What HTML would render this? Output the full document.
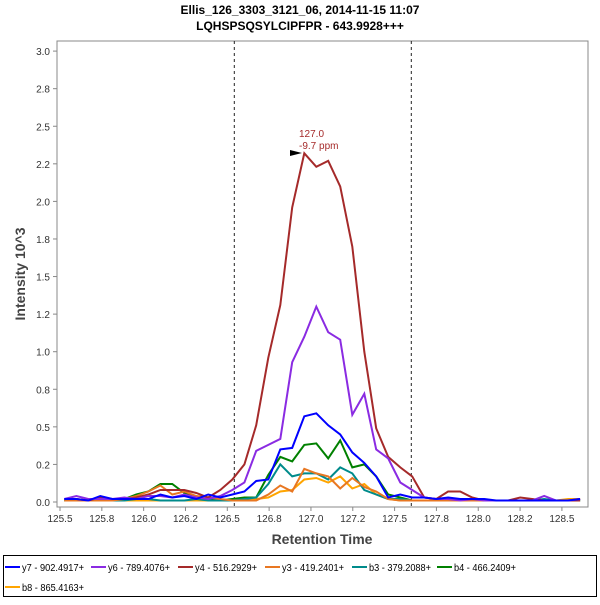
<!DOCTYPE html>
<html><head><meta charset="utf-8"><style>
body{margin:0;background:#fff;font-family:"Liberation Sans",sans-serif}
svg text{font-family:"Liberation Sans",sans-serif}
</style></head><body>
<svg id="chart" width="600" height="600" viewBox="0 0 600 600" xmlns="http://www.w3.org/2000/svg">
<rect width="600" height="600" fill="#fff"/>
<text x="300" y="14" text-anchor="middle" font-size="12" font-weight="bold">Ellis_126_3303_3121_06, 2014-11-15 11:07</text>
<text x="300" y="30" text-anchor="middle" font-size="12" font-weight="bold">LQHSPSQSYLCIPFPR - 643.9928+++</text>
<rect x="57" y="41" width="531" height="466" fill="#fff" stroke="#888" stroke-width="1"/>
<text transform="translate(25,274) rotate(-90)" text-anchor="middle" font-size="14" font-weight="bold" fill="#444">Intensity 10^3</text>
<text x="322" y="544" text-anchor="middle" font-size="14" font-weight="bold" fill="#444">Retention Time</text>
<g id="yticks"></g><g id="xticks"></g>
<line x1="234.3" y1="41" x2="234.3" y2="507" stroke="#222" stroke-dasharray="3,3"/>
<line x1="411.3" y1="41" x2="411.3" y2="507" stroke="#222" stroke-dasharray="3,3"/>
<g id="series"></g>
<text x="299" y="137" font-size="10" fill="#a52a2a">127.0</text>
<text x="299" y="149" font-size="10" fill="#a52a2a">-9.7 ppm</text>
<polygon points="290,150 302,153 290,156" fill="#000"/>
<rect x="3.5" y="555.5" width="593" height="41" fill="#fff" stroke="#000"/>
<g id="legend"></g>
</svg>
<script>
const times=[125.526,125.598,125.669,125.741,125.813,125.885,125.956,126.028,126.100,126.171,126.243,126.315,126.386,126.458,126.530,126.602,126.673,126.745,126.817,126.888,126.960,127.032,127.103,127.175,127.247,127.319,127.390,127.462,127.534,127.605,127.677,127.749,127.820,127.892,127.964,128.036,128.107,128.179,128.251,128.322,128.394,128.466,128.537,128.609];
const y7=[0.02,0.02,0.01,0.04,0.02,0.02,0.02,0.02,0.05,0.03,0.04,0.02,0.05,0.03,0.05,0.07,0.14,0.15,0.35,0.36,0.57,0.59,0.51,0.45,0.33,0.26,0.17,0.03,0.05,0.03,0.03,0.02,0.03,0.02,0.02,0.02,0.01,0.01,0.01,0.01,0.01,0.01,0.01,0.02];
const y6=[0.02,0.04,0.02,0.02,0.02,0.03,0.02,0.04,0.04,0.03,0.05,0.03,0.02,0.04,0.08,0.13,0.34,0.38,0.42,0.93,1.10,1.30,1.13,1.08,0.58,0.72,0.35,0.29,0.13,0.08,0.03,0.02,0.02,0.01,0.02,0.01,0.01,0.01,0.01,0.01,0.04,0.01,0.01,0.02];
const y4=[0.02,0.02,0.01,0.03,0.02,0.02,0.03,0.05,0.08,0.08,0.08,0.06,0.03,0.08,0.15,0.25,0.51,0.96,1.31,1.96,2.32,2.23,2.27,2.10,1.70,1.00,0.49,0.30,0.23,0.17,0.03,0.02,0.07,0.07,0.03,0.01,0.01,0.01,0.03,0.02,0.01,0.01,0.01,0.01];
const y3=[0.01,0.01,0.01,0.01,0.01,0.02,0.04,0.07,0.11,0.05,0.07,0.04,0.03,0.02,0.01,0.01,0.01,0.05,0.11,0.07,0.22,0.19,0.17,0.09,0.16,0.10,0.07,0.02,0.01,0.01,0.01,0.01,0.01,0.01,0.01,0.01,0.01,0.01,0.01,0.01,0.01,0.01,0.01,0.02];
const b3=[0.01,0.01,0.01,0.01,0.01,0.01,0.02,0.02,0.01,0.01,0.01,0.02,0.01,0.01,0.01,0.02,0.03,0.12,0.25,0.17,0.19,0.19,0.15,0.23,0.19,0.08,0.05,0.02,0.02,0.01,0.01,0.01,0.01,0.01,0.01,0.01,0.01,0.01,0.01,0.01,0.02,0.01,0.01,0.01];
const b4=[0.01,0.01,0.01,0.01,0.01,0.02,0.05,0.07,0.12,0.12,0.06,0.03,0.02,0.01,0.02,0.03,0.03,0.18,0.30,0.27,0.38,0.39,0.29,0.41,0.23,0.25,0.17,0.05,0.03,0.01,0.01,0.01,0.01,0.01,0.01,0.01,0.01,0.01,0.01,0.01,0.01,0.01,0.01,0.01];
const b8=[0.01,0.01,0.01,0.01,0.01,0.01,0.01,0.01,0.01,0.01,0.01,0.01,0.01,0.01,0.01,0.02,0.02,0.03,0.07,0.08,0.15,0.16,0.13,0.17,0.09,0.12,0.05,0.02,0.01,0.01,0.01,0.01,0.01,0.01,0.01,0.01,0.01,0.01,0.01,0.01,0.01,0.01,0.02,0.02];
const yTickVals=[0,0.25,0.5,0.75,1,1.25,1.5,1.75,2,2.25,2.5,2.75,3];
const yTickLabels=["0.0","0.2","0.5","0.8","1.0","1.2","1.5","1.8","2.0","2.2","2.5","2.8","3.0"];
const xTickVals=[125.5,125.75,126,126.25,126.5,126.75,127,127.25,127.5,127.75,128,128.25,128.5];
const xTickLabels=["125.5","125.8","126.0","126.2","126.5","126.8","127.0","127.2","127.5","127.8","128.0","128.2","128.5"];
const seriesNames=["y7 - 902.4917+","y6 - 789.4076+","y4 - 516.2929+","y3 - 419.2401+","b3 - 379.2088+","b4 - 466.2409+","b8 - 865.4163+"];
const seriesColors=["#0000ff","#8a2be2","#a52a2a","#e87722","#008b8b","#008000","#ffa500"];
const seriesData=[y7,y6,y4,y3,b3,b4,b8];
const NS="http://www.w3.org/2000/svg";
const xs=t=>60+(t-125.5)*167.3;
const ys=v=>502-v*150.3;
function mk(tag,attrs,parent){const e=document.createElementNS(NS,tag);for(const k in attrs)e.setAttribute(k,attrs[k]);parent.appendChild(e);return e;}
const yg=document.getElementById('yticks');
yTickVals.forEach((v,i)=>{
 const l=mk('line',{x1:53,x2:57,y1:ys(v),y2:ys(v),stroke:'#888'},yg);
 
 
 const t=mk('text',{x:50,y:ys(v)+4,'text-anchor':'end','font-size':10,fill:'#333'},yg);
 t.textContent=yTickLabels[i];
 
 
});
const xg=document.getElementById('xticks');
xTickVals.forEach((v,i)=>{
 const l=mk('line',{x1:xs(v),x2:xs(v),y1:507,y2:511,stroke:'#888'},xg);
 
 
 const t=mk('text',{x:xs(v),y:522,'text-anchor':'middle','font-size':10,fill:'#333'},xg);
 t.textContent=xTickLabels[i];
 
 
});
const sg=document.getElementById('series');
for(let s=seriesData.length-1;s>=0;s--){
 const pts=seriesData[s].map((v,i)=>xs(times[i]).toFixed(1)+','+ys(v).toFixed(1)).join(' ');
 const p=mk('polyline',{points:pts,fill:'none',stroke:seriesColors[s],'stroke-width':2,'stroke-linejoin':'miter'},sg);
 
 
}
const lg=document.getElementById('legend');
const legendPos=[[5,567],[91,567],[178,567],[265,567],[352,567],[437,567],[5,587]];
seriesNames.forEach((n,i)=>{
 const [x,y]=legendPos[i];
 const g=mk('g',{},lg);
 
 
 mk('line',{x1:x,x2:x+15,y1:y,y2:y,stroke:seriesColors[i],'stroke-width':2},g);
 const t=mk('text',{x:x+17,y:y+4,'font-size':10,fill:'#000',textLength:62,lengthAdjust:'spacingAndGlyphs'},g);
 t.textContent=n;
});
</script>
</body></html>
